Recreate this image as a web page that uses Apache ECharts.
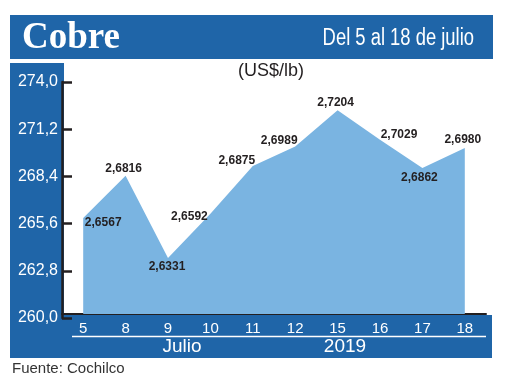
<!DOCTYPE html>
<html><head><meta charset="utf-8">
<script src="https://cdn.jsdelivr.net/npm/echarts@6/dist/echarts.min.js"></script>
<style>html,body{margin:0;padding:0;background:#fff}#c{width:520px;height:390px}</style>
</head><body><div id="c"></div>
<script>
var categories = ['5','8','9','10','11','12','15','16','17','18'];
var copperValues = [265.67, 268.16, 263.31, 265.92, 268.75, 269.89, 272.04, 270.29, 268.62, 269.80];
var yTickLabels = ['260,0','262,8','265,6','268,4','271,2','274,0'];
var labelOffsets = [[20,5],[-2,-7],[-1,9],[-21,3],[-16,-5],[-16,-6],[-2,-7],[19,-5],[-3,10],[-2,-8]];

var blue = '#1f65a8';
var dark = '#231f20';
var sans = "'Liberation Sans', Arial, sans-serif";

var seriesData = copperValues.map(function (v, i) {
  return { value: v, label: { offset: labelOffsets[i] } };
});

var chart = echarts.init(document.getElementById('c'), null, { renderer: 'canvas' });
chart.setOption({
  animation: false,
  backgroundColor: '#fff',
  graphic: [
    { type: 'rect', z: -10, shape: { x: 10, y: 15, width: 483, height: 44 }, style: { fill: blue } },
    { type: 'rect', z: -10, shape: { x: 10, y: 63, width: 54, height: 295 }, style: { fill: blue } },
    { type: 'rect', z: -10, shape: { x: 10, y: 315, width: 482, height: 43 }, style: { fill: blue } },
    { type: 'line', z: -5, shape: { x1: 72, y1: 336.5, x2: 486, y2: 336.5 }, style: { stroke: '#fff', lineWidth: 1.5 } },
    { type: 'text', z: 5, style: { text: 'Cobre', x: 22, y: 38, fill: '#fff', font: "bold 37px 'Liberation Serif', serif", verticalAlign: 'middle' } },
    { type: 'text', z: 5, x: 474, y: 39, scaleX: 0.8, style: { text: 'Del 5 al 18 de julio', x: 0, y: 0, fill: '#fff', font: "23px " + sans, align: 'right', verticalAlign: 'middle' } },
    { type: 'text', z: 5, style: { text: '(US$/lb)', x: 271, y: 71, fill: dark, font: "18px " + sans, align: 'center', verticalAlign: 'middle' } },
    { type: 'text', z: 5, style: { text: 'Julio', x: 182, y: 347, fill: '#fff', font: "19px " + sans, align: 'center', verticalAlign: 'middle' } },
    { type: 'text', z: 5, style: { text: '2019', x: 345, y: 347, fill: '#fff', font: "19px " + sans, align: 'center', verticalAlign: 'middle' } },
    { type: 'text', z: 5, style: { text: 'Fuente: Cochilco', x: 12, y: 369, fill: '#333', font: "15px " + sans, verticalAlign: 'middle' } }
  ],
  grid: [
    { left: 62, right: 34, top: 77, height: 237 },
    { left: 62, right: 34, top: 82, height: 236 }
  ],
  xAxis: [
    {
      type: 'category', gridIndex: 0, data: categories, boundaryGap: true,
      axisLine: { lineStyle: { color: dark, width: 2 } },
      axisTick: { inside: true, length: 5, lineStyle: { color: dark, width: 2 } },
      axisLabel: { color: '#fff', fontSize: 15, margin: 7, fontFamily: sans },
      splitLine: { show: false }
    },
    { type: 'value', gridIndex: 1, show: false }
  ],
  yAxis: [
    { type: 'value', gridIndex: 0, min: 260, max: 274, show: false },
    {
      type: 'category', gridIndex: 1, data: yTickLabels, boundaryGap: false,
      axisLine: { lineStyle: { color: dark, width: 2.5 } },
      axisTick: { inside: true, length: 10, lineStyle: { color: dark, width: 2.5 } },
      axisLabel: { color: '#fff', fontSize: 16, margin: 4, fontFamily: sans },
      splitLine: { show: false }
    }
  ],
  series: [{
    type: 'line', xAxisIndex: 0, yAxisIndex: 0,
    data: seriesData,
    symbol: 'circle', symbolSize: 1,
    itemStyle: { color: 'rgba(0,0,0,0)' },
    lineStyle: { width: 0, color: 'rgba(0,0,0,0)' },
    areaStyle: { color: '#7ab4e1', opacity: 1 },
    label: {
      show: true, position: 'inside', color: dark, fontSize: 12, fontWeight: 'bold', fontFamily: sans,
      formatter: function (p) { return (p.value / 100).toFixed(4).replace('.', ','); }
    },
    z: 2
  }]
});
</script></body></html>
